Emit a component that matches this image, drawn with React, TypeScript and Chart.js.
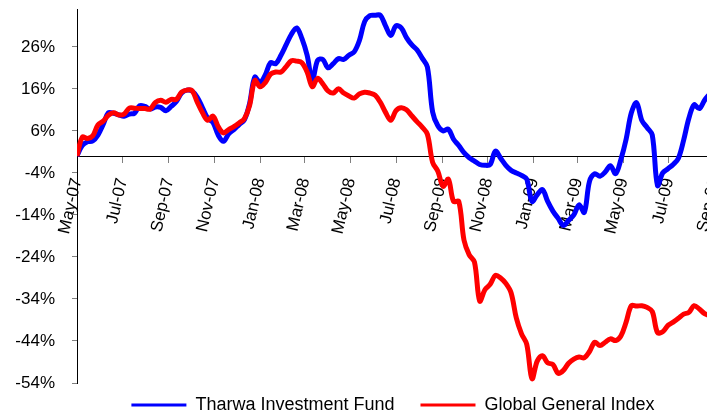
import { useEffect, useRef } from 'react';
import { Chart, registerables } from 'chart.js';

Chart.register(...registerables);

// ---- data ----
const START_DATE = '2007-05-01';
const WEEK_DAYS = 7;

const seriesNames = ['Tharwa Investment Fund', 'Global General Index'];
const seriesColors = ['#0000FF', '#FF0000'];

const tickLabels = [
  'May-07', 'Jul-07', 'Sep-07', 'Nov-07', 'Jan-08', 'Mar-08', 'May-08', 'Jul-08',
  'Sep-08', 'Nov-08', 'Jan-09', 'Mar-09', 'May-09', 'Jul-09', 'Sep-09', 'Nov-09',
];
const yTicks = [-54, -44, -34, -24, -14, -4, 6, 16, 26];
const Y_MIN = -54;
const Y_MAX = 35;
const X_MAX_DAYS = 949;

// weekly cumulative returns (%), from May-07
const tharwa = [
  0, 2.5, 3.4, 3.6, 5.0, 7.5, 10.3, 10.2, 9.8, 9.5,
  10.0, 10.2, 12.0, 11.8, 11.2, 11.7, 11.6, 10.8, 11.8, 13.0,
  15.0, 15.7, 15.5, 14.0, 11.5, 9.0, 8.0, 5.0, 3.5, 5.3,
  6.3, 7.5, 8.6, 12.5, 18.8, 17.5, 19.3, 22.2, 22.0, 24.0,
  26.5, 29.0, 30.5, 28.0, 24.0, 18.0, 22.8, 23.0, 21.0, 22.0,
  23.2, 23.0, 24.0, 24.8, 27.5, 32.0, 33.4, 33.5, 33.5, 31.0,
  28.7, 31.0, 30.5, 28.2, 26.5, 25.3, 23.3, 21.2, 10.5, 7.2,
  6.0, 6.4, 4.0, 2.5, 0.8, -0.4, -1.2, -2.0, -2.2, -2.0,
  1.2, -0.5, -2.2, -3.4, -4.0, -4.6, -5.5, -10.8, -9.2, -8.0,
  -10.8, -13.1, -14.8, -16.5, -15.3, -14.0, -11.6, -13.4, -6.0, -4.2,
  -4.8, -3.8, -2.3, -4.2, -0.8, 4.0, 10.3, 12.7, 8.5, 6.8,
  5.0, -7.0, -4.0, -3.0, -2.0, -0.5, 3.8, 9.0, 12.2, 11.3,
  13.3, 14.8,
];

const globalIndex = [
  0, 4.5, 4.2, 4.8, 7.4, 8.3, 9.7, 10.3, 9.8, 10.0,
  11.4, 11.4, 11.3, 11.3, 11.2, 12.8, 13.3, 12.8, 13.5, 13.5,
  15.2, 15.7, 15.6, 12.8, 10.3, 8.5, 9.5, 7.0, 5.5, 6.3,
  7.0, 7.9, 8.9, 12.0, 18.0, 16.5, 17.5, 19.5, 20.0, 20.0,
  21.3, 22.7, 22.6, 22.2, 20.0, 16.5, 18.5, 17.2, 15.5, 15.0,
  16.0, 15.0, 14.3, 13.8, 14.8, 15.2, 15.0, 14.5, 12.8, 10.4,
  8.5, 10.8, 11.5, 11.0, 9.6, 8.2, 6.9, 5.2, -1.5, -3.6,
  -7.2, -5.5, -10.8, -10.8, -20.0, -23.5, -25.2, -34.5, -31.8, -30.5,
  -28.4, -29.0, -30.3, -32.5, -38.5, -42.3, -44.8, -53.0, -48.8, -47.5,
  -49.2, -49.6, -51.7, -51.0, -49.3, -48.3, -47.8, -48.0, -46.5, -44.3,
  -45.1, -44.3, -43.5, -43.9, -42.8, -39.5, -35.6, -35.7, -35.6, -36.0,
  -37.0, -42.0, -41.8, -40.3, -39.5, -38.6, -37.6, -37.2, -35.6, -36.4,
  -37.5, -38.0,
];

// ---- helpers ----
const MONTHS = ['Jan', 'Feb', 'Mar', 'Apr', 'May', 'Jun', 'Jul', 'Aug', 'Sep', 'Oct', 'Nov', 'Dec'];
const startMs = Date.parse(START_DATE);
function labelToDay(label: string): number {
  const [mon, yy] = label.split('-');
  const ms = Date.UTC(2000 + Number(yy), MONTHS.indexOf(mon), 1);
  return Math.round((ms - startMs) / 86400000);
}
const tickDays = tickLabels.map(labelToDay);
const labelByDay = new Map<number, string>();
tickLabels.forEach((l, i) => labelByDay.set(tickDays[i], l));

const FONT = "'Liberation Sans', Arial, sans-serif";
const CANVAS_W = 786;
const CANVAS_H = 415;
const LEGEND_H = 32;
const LEGEND_SHIFT = 13;

const legendFit = {
  id: 'legendFit',
  beforeLayout(chart: any) {
    const lg = chart.legend;
    if (lg && !lg.__patched) {
      lg.__patched = true;
      const orig = lg.fit.bind(lg);
      lg.fit = function () {
        orig();
        this.height = LEGEND_H;
      };
    }
  },
  afterLayout(chart: any) {
    const lg = chart.legend;
    if (lg) {
      lg.top -= LEGEND_SHIFT;
    }
  },
};

export default function App() {
  const ref = useRef<HTMLCanvasElement | null>(null);

  useEffect(() => {
    if (!ref.current) return;
    const mk = (vals: number[]) => vals.map((v, i) => ({ x: i * WEEK_DAYS, y: v }));
    const chart = new Chart(ref.current, {
      type: 'line',
      data: {
        datasets: [
          {
            label: seriesNames[0],
            data: mk(tharwa),
            borderColor: seriesColors[0],
            backgroundColor: seriesColors[0],
            borderWidth: 5,
            pointRadius: 0,
            tension: 0.35,
            order: 1,
          },
          {
            label: seriesNames[1],
            data: mk(globalIndex),
            borderColor: seriesColors[1],
            backgroundColor: seriesColors[1],
            borderWidth: 5,
            pointRadius: 0,
            tension: 0.35,
            order: 0,
          },
        ],
      },
      options: {
        animation: false,
        responsive: false,
        layout: { padding: { top: 9, left: 0, right: 0, bottom: 0 } },
        scales: {
          x: {
            type: 'linear',
            position: { y: 0 } as any,
            min: 0,
            max: X_MAX_DAYS,
            afterBuildTicks: (s: any) => {
              s.ticks = tickDays.map((v) => ({ value: v }));
            },
            afterFit: (s: any) => {
              s.paddingLeft = 0;
              s.paddingRight = 0;
              s.paddingTop = 0;
              s.paddingBottom = 0;
            },
            grid: { drawOnChartArea: false, drawTicks: true, tickLength: 6, color: '#808080' },
            border: { display: true, color: '#000000', width: 1 },
            ticks: {
              autoSkip: false,
              minRotation: 77,
              maxRotation: 77,
              padding: 14,
              color: '#000000',
              font: { family: FONT, size: 17 },
              callback: (v: any) => labelByDay.get(Number(v)) ?? '',
            },
          },
          y: {
            type: 'linear',
            min: Y_MIN,
            max: Y_MAX,
            afterBuildTicks: (s: any) => {
              s.ticks = yTicks.map((v) => ({ value: v }));
            },
            afterFit: (s: any) => {
              s.width = 77;
              s.paddingTop = 0;
              s.paddingBottom = 0;
            },
            grid: { drawOnChartArea: false, drawTicks: true, tickLength: 5, color: '#808080' },
            border: { display: true, color: '#000000', width: 1 },
            ticks: {
              padding: 17,
              color: '#000000',
              font: { family: FONT, size: 17 },
              callback: (v: any) => `${v}%`,
            },
          },
        },
        plugins: {
          legend: {
            position: 'bottom',
            labels: {
              boxWidth: 55,
              boxHeight: 3,
              padding: 26,
              color: '#000000',
              font: { family: FONT, size: 18 },
              sort: (a: any, b: any) => a.datasetIndex - b.datasetIndex,
              generateLabels: (c: any) =>
                (Chart.defaults.plugins.legend.labels as any)
                  .generateLabels(c)
                  .map((it: any) => ({ ...it, lineWidth: 0, fillStyle: it.strokeStyle })),
            },
          },
          tooltip: { enabled: false },
        },
      },
      plugins: [legendFit],
    });
    return () => chart.destroy();
  }, []);

  return (
    <div
      style={{
        position: 'fixed',
        left: 0,
        top: 0,
        width: 707,
        height: 415,
        overflow: 'hidden',
        background: '#ffffff',
      }}
    >
      <canvas ref={ref} width={CANVAS_W} height={CANVAS_H} style={{ display: 'block' }} />
    </div>
  );
}
